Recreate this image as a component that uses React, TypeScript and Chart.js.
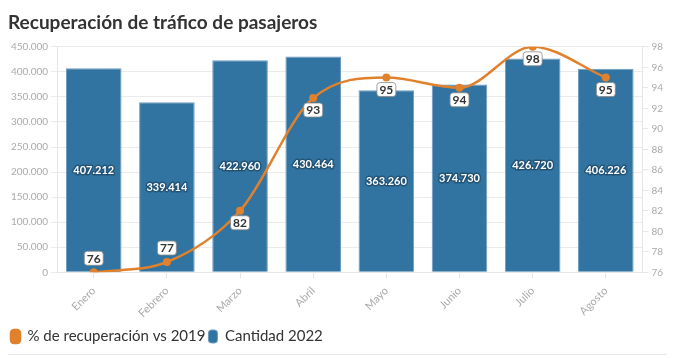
import React, { useEffect, useRef } from "react";
import { Chart, registerables } from "chart.js";

Chart.register(...registerables);

const months = ["Enero", "Febrero", "Marzo", "Abril", "Mayo", "Junio", "Julio", "Agosto"];
const cantidad2022 = [407212, 339414, 422960, 430464, 363260, 374730, 426720, 406226];
const recuperacion = [76, 77, 82, 93, 95, 94, 98, 95];
const leftTicksMax = 450000;
const rightMin = 76;
const rightMax = 98;

const BLUE = "#3274A1";
const ORANGE = "#E1812C";
const FONT = "Lato, 'Open Sans', sans-serif";

const fmt = (v: number) => v.toString().replace(/\B(?=(\d{3})+(?!\d))/g, ".");

function roundRect(ctx: CanvasRenderingContext2D, x: number, y: number, w: number, h: number, r: number) {
  ctx.beginPath();
  ctx.moveTo(x + r, y);
  ctx.lineTo(x + w - r, y);
  ctx.quadraticCurveTo(x + w, y, x + w, y + r);
  ctx.lineTo(x + w, y + h - r);
  ctx.quadraticCurveTo(x + w, y + h, x + w - r, y + h);
  ctx.lineTo(x + r, y + h);
  ctx.quadraticCurveTo(x, y + h, x, y + h - r);
  ctx.lineTo(x, y + r);
  ctx.quadraticCurveTo(x, y, x + r, y);
  ctx.closePath();
}

const labelsPlugin = {
  id: "valueLabels",
  afterDatasetsDraw(chart: any) {
    const ctx: CanvasRenderingContext2D = chart.ctx;
    const area = chart.chartArea;
    ctx.save();
    ctx.textAlign = "center";
    ctx.textBaseline = "middle";
    const barMeta = chart.getDatasetMeta(1);
    ctx.font = `bold 11px ${FONT}`;
    barMeta.data.forEach((el: any, i: number) => {
      const txt = fmt(cantidad2022[i]);
      const y = (el.y + el.base) / 2;
      ctx.lineJoin = "round";
      ctx.lineWidth = 3;
      ctx.strokeStyle = "rgba(25,65,95,0.6)";
      ctx.strokeText(txt, el.x, y + 0.5);
      ctx.fillStyle = "#ffffff";
      ctx.fillText(txt, el.x, y + 0.5);
    });
    const lineMeta = chart.getDatasetMeta(0);
    ctx.font = `bold 12px ${FONT}`;
    lineMeta.data.forEach((el: any, i: number) => {
      const txt = String(recuperacion[i]);
      const above = el.y > area.bottom - 30;
      const y = above ? el.y - 14 : el.y + 12;
      const w = ctx.measureText(txt).width + 5;
      ctx.fillStyle = "#ffffff";
      roundRect(ctx, el.x - w / 2, y - 7, w, 14, 3);
      ctx.fill();
      ctx.lineWidth = 0.8;
      ctx.strokeStyle = "#888";
      ctx.stroke();
      ctx.fillStyle = "#333";
      ctx.fillText(txt, el.x, y + 0.5);
    });
    ctx.restore();
  },
};

export default function App() {
  const ref = useRef<HTMLCanvasElement | null>(null);
  useEffect(() => {
    if (!ref.current) return;
    const chart = new Chart(ref.current, {
      type: "bar",
      data: {
        labels: months,
        datasets: [
          {
            type: "line",
            label: "% de recuperación vs 2019",
            data: recuperacion,
            yAxisID: "y1",
            borderColor: ORANGE,
            backgroundColor: ORANGE,
            borderWidth: 2.5,
            pointRadius: 4,
            pointBackgroundColor: ORANGE,
            pointBorderWidth: 0,
            cubicInterpolationMode: "monotone",
            order: 0,
          } as any,
          {
            type: "bar",
            label: "Cantidad 2022",
            data: cantidad2022,
            yAxisID: "y",
            backgroundColor: BLUE,
            borderColor: "#6d9cc0",
            borderWidth: 1,
            categoryPercentage: 1,
            barPercentage: 0.76,
            order: 1,
          } as any,
        ],
      },
      options: {
        animation: false,
        responsive: false,
        maintainAspectRatio: false,
        layout: { padding: { left: 0, right: 5, top: 0, bottom: 0 } },
        plugins: {
          title: {
            display: true,
            text: "Recuperación de tráfico de pasajeros",
            align: "start",
            color: "#333",
            font: { family: FONT, size: 19, weight: "bold" },
            padding: { top: 3, bottom: 13 },
          },
          legend: {
            position: "bottom",
            align: "start",
            labels: {
              color: "#333",
              font: { family: FONT, size: 15 },
              boxWidth: 9,
              boxHeight: 13,
              useBorderRadius: true,
              borderRadius: 3,
              padding: 3,
            },
          } as any,
          tooltip: { enabled: false },
        },
        scales: {
          x: {
            offset: true,
            grid: { display: true, drawOnChartArea: false, offset: false, color: "#e6e6e6", tickLength: 6 },
            border: { color: "#e6e6e6" },
            ticks: {
              color: "#aaa",
              font: { family: FONT, size: 11 },
              maxRotation: 45,
              minRotation: 45,
              padding: 6,
            },
          },
          y: {
            position: "left",
            min: 0,
            max: leftTicksMax,
            ticks: {
              stepSize: 50000,
              color: "#aaa",
              font: { family: FONT, size: 10 },
              callback: (v: any) => fmt(Number(v)),
            },
            grid: { color: "#ebebeb", tickLength: 6 },
            border: { color: "#e6e6e6" },
          },
          y1: {
            position: "right",
            min: rightMin,
            max: rightMax,
            ticks: {
              stepSize: 2,
              color: "#aaa",
              font: { family: FONT, size: 10 },
            },
            grid: { drawOnChartArea: false, color: "#e6e6e6", tickLength: 6 },
            border: { color: "#e6e6e6" },
          },
        },
      },
      plugins: [labelsPlugin],
    });
    return () => chart.destroy();
  }, []);
  return (
    <div
      style={{
        width: 664,
        height: 347,
        borderRight: "1px solid #e8e8e8",
        borderBottom: "1px solid #e8e8e8",
        boxSizing: "border-box",
      }}
    >
      <canvas ref={ref} width={663} height={346} style={{ display: "block" }} />
    </div>
  );
}
